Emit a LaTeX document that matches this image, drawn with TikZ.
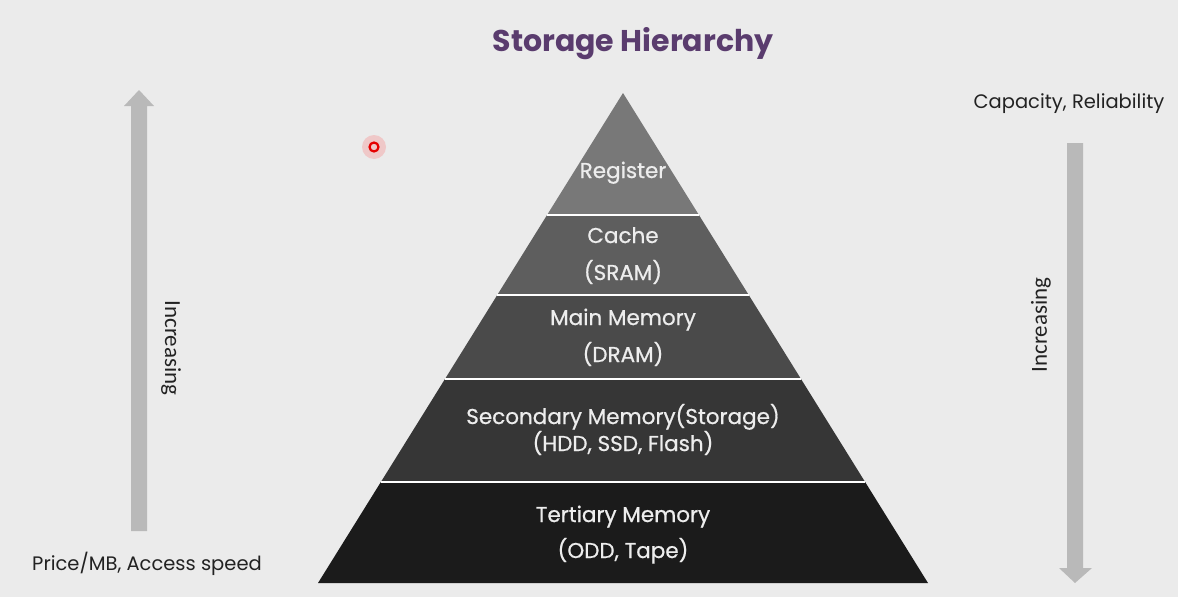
\documentclass[tikz,border=0pt]{standalone}
\usepackage{fontspec}
\setmainfont{Poppins}
\newfontfamily\medfont[FakeBold=0.7]{Poppins}
\newfontfamily\calib{Carlito}
\usetikzlibrary{calc}
\definecolor{bgc}{HTML}{EBEBEB}
\definecolor{titlec}{HTML}{5A3C6E}
\definecolor{arrc}{HTML}{B9B9B9}
\definecolor{l1}{HTML}{787878}
\definecolor{l2}{HTML}{5E5E5E}
\definecolor{l3}{HTML}{4A4A4A}
\definecolor{l4}{HTML}{363636}
\definecolor{l5}{HTML}{1B1B1B}
\definecolor{txtc}{HTML}{EDEDED}
\definecolor{darkt}{HTML}{222222}
\tikzset{
  lbl/.style={text=txtc, font=\medfont\fontsize{21.5}{24}\selectfont, inner sep=0pt, anchor=base},
  side/.style={text=darkt, font=\fontsize{19.5}{22}\selectfont, inner sep=0pt, anchor=base},
  incr/.style={text=darkt, font=\calib\fontsize{23}{26}\selectfont, inner sep=0pt},
  sep/.style={draw=white, line width=2.5pt},
}
\begin{document}
\begin{tikzpicture}[x=1pt,y=-1pt]
\fill[bgc] (0,0) rectangle (1178,597);
\useasboundingbox (0,0) rectangle (1178,597);
% title
\node[text=titlec, font=\fontsize{30}{36}\selectfont\bfseries, inner sep=0pt, anchor=base] (title) at (633,51) {Storage Hierarchy};
% pyramid
\coordinate (A) at (623,93);
\coordinate (BL) at (318,583);
\coordinate (BR) at (928,583);
\foreach \i/\t in {1/0.249,2/0.412,3/0.5837,4/0.7939,5/1}{
  \coordinate (L\i) at ($(A)!\t!(BL)$);
  \coordinate (R\i) at ($(A)!\t!(BR)$);
}
\fill[l1] (A) -- (L1) -- (R1) -- cycle;
\fill[l2] (L1) -- (L2) -- (R2) -- (R1) -- cycle;
\fill[l3] (L2) -- (L3) -- (R3) -- (R2) -- cycle;
\fill[l4] (L3) -- (L4) -- (R4) -- (R3) -- cycle;
\fill[l5] (L4) -- (L5) -- (R5) -- (R4) -- cycle;
\foreach \i in {1,2,3,4}{ \draw[sep] (L\i) -- (R\i); }
% labels
\node[lbl] (reg) at (623,178) {Register};
\node[lbl] (cache) at (623,243) {Cache};
\node[lbl] (sram) at (623,280) {(SRAM)};
\node[lbl] (main) at (623,325) {Main Memory};
\node[lbl] (dram) at (623,362) {(DRAM)};
\node[lbl] (sec) at (623,424) {Secondary Memory(Storage)};
\node[lbl] (hdd) at (623,451) {(HDD, SSD, Flash)};
\node[lbl] (ter) at (623,522) {Tertiary Memory};
\node[lbl] (odd) at (623,558) {(ODD, Tape)};
% left arrow
\fill[arrc] (131,531) -- (131,106) -- (124,106) -- (139,90) -- (154,106) -- (147,106) -- (147,531) -- cycle;
\node[incr, rotate=-90] (incl) at (171,348) {Increasing};
\node[side] (price) at (147,570) {Price/MB, Access speed};
% right arrow
\fill[arrc] (1067,143) -- (1067,568) -- (1059,568) -- (1075,583) -- (1092,568) -- (1083,568) -- (1083,143) -- cycle;
\node[incr, rotate=90] (incr2) at (1041,325) {Increasing};
\node[side] (cap) at (1069,108) {Capacity, Reliability};
% cursor marker
\fill[red!70, opacity=0.22] (374,147) circle (12);
\draw[red!90!black, line width=2.2pt] (374,147) circle (4.5);
\end{tikzpicture}
\end{document}
